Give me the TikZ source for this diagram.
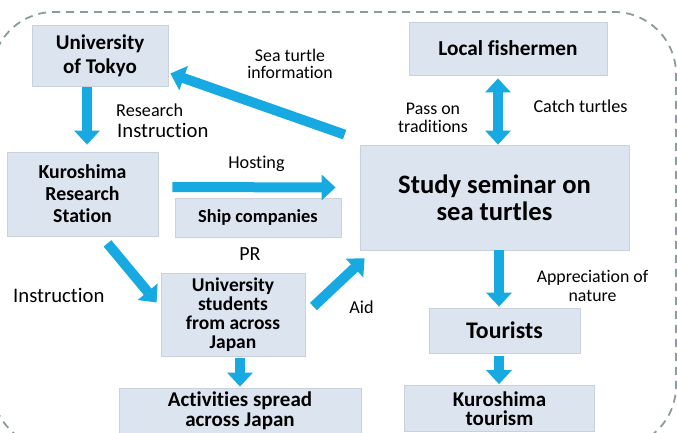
\documentclass[tikz,border=0pt]{standalone}
\usepackage{fontspec}
\setmainfont[Ligatures=NoCommon]{Carlito}
\usetikzlibrary{arrows.meta,calc}
\definecolor{boxfill}{HTML}{DCE4EF}
\definecolor{boxline}{HTML}{C9D1DC}
\definecolor{arrowblue}{HTML}{16A9E2}
\definecolor{dashgray}{HTML}{8E9B9B}
\tikzset{
  box/.style={fill=boxfill,draw=boxline,line width=0.8pt,inner sep=0pt,align=center,font=\bfseries},
  bigarrow/.style={draw=arrowblue,line width=10pt,-{Triangle[width=25pt,length=14pt]}},
  dblarrow/.style={draw=arrowblue,line width=10pt,{Triangle[width=25pt,length=14pt]}-{Triangle[width=25pt,length=14pt]}},
  lbl/.style={inner sep=0pt,align=center}
}
\begin{document}
\begin{tikzpicture}[x=1pt,y=-1pt]
\useasboundingbox (0,0) rectangle (677,433);
% dashed frame
\draw[dashgray,line width=1.8pt,dash pattern=on 8pt off 6pt,rounded corners=62pt] (-8,12) rectangle (676,448);
% boxes
\node[box,minimum width=136pt,minimum height=61pt,font=\fontsize{21}{24}\selectfont\bfseries] (tokyo) at (100,55.5) {University\\of Tokyo};
\node[box,minimum width=198pt,minimum height=53pt,font=\fontsize{21.3}{24}\selectfont\bfseries] (fish) at (508,48.5) {Local fishermen};
\node[box,minimum width=151pt,minimum height=84pt,font=\fontsize{19.8}{22}\selectfont\bfseries] (station) at (82.5,194) {Kuroshima\\Research\\Station};
\node[box,minimum width=166pt,minimum height=39pt,font=\fontsize{18.4}{21}\selectfont\bfseries] (ship) at (258,217.5) {Ship companies};
\node[box,minimum width=269pt,minimum height=105pt,font=\fontsize{26.6}{27}\selectfont\bfseries] (seminar) at (494.5,197.5) {Study seminar on\\sea turtles};
\node[box,minimum width=144pt,minimum height=83pt,font=\fontsize{19.5}{18.8}\selectfont\bfseries] (students) at (233,314.5) {University\\students\\from across\\Japan};
\node[box,minimum width=242pt,minimum height=46pt,font=\fontsize{21}{19.5}\selectfont\bfseries] (activities) at (240,411) {Activities spread\\across Japan};
\node[box,minimum width=151pt,minimum height=45pt,font=\fontsize{23.8}{26}\selectfont\bfseries] (tourists) at (504.5,330.5) {Tourists};
\node[box,minimum width=190pt,minimum height=46pt,font=\fontsize{21}{19.5}\selectfont\bfseries] (ktour) at (499.5,408.5) {Kuroshima\\tourism};
% arrows
\draw[bigarrow] ($(tokyo.south)+(-13,1)$) -- ($(station.north)+(4.5,-7)$);
\draw[bigarrow] ($(seminar.north west)+(-15,-10)$) -- ($(tokyo.east)+(2,18)$);
\draw[bigarrow] ($(station.east)+(14,-7)$) -- ($(seminar.west)+(-24,-10)$);
\draw[dblarrow] ($(fish.south)+(-10,3)$) -- ($(seminar.north)+(3.5,0)$);
\draw[bigarrow] ($(station.south)+(25,7)$) -- ($(students.west)+(-4,-12)$);
\draw[bigarrow] ($(students.east)+(8,-8)$) -- ($(seminar.south west)+(5,8)$);
\draw[bigarrow] ($(students.south)+(7,2)$) -- ($(activities.north)+(0,-1)$);
\draw[bigarrow] ($(seminar.south)+(4.5,0)$) -- ($(tourists.north)+(-5.5,-1)$);
\draw[bigarrow] ($(tourists.south)+(-5.5,3)$) -- ($(ktour.north)+(-0.5,-1)$);
% labels
\node[lbl,font=\fontsize{17.8}{17}\selectfont] (lsea) at (290,64) {Sea turtle\\information};
\node[lbl,font=\fontsize{18.2}{18}\selectfont,anchor=base west] (lres) at (116,117) {Research};
\node[lbl,font=\fontsize{20.7}{20}\selectfont,anchor=base west] (linst1) at (117,138) {Instruction};
\node[lbl,font=\fontsize{18.2}{18}\selectfont,anchor=base] (lhost) at (256.5,168) {Hosting};
\node[lbl,font=\fontsize{20}{20}\selectfont,anchor=base] (lpr) at (250,260) {PR};
\node[lbl,font=\fontsize{20.7}{20}\selectfont,anchor=base west] (linst2) at (13,302) {Instruction};
\node[lbl,font=\fontsize{18.2}{18}\selectfont,anchor=base] (laid) at (361.5,313) {Aid};
\node[lbl,font=\fontsize{17.8}{18.5}\selectfont] (lpass) at (433,118) {Pass on\\traditions};
\node[lbl,font=\fontsize{18.2}{18}\selectfont,anchor=base] (lcatch) at (580.5,113) {Catch turtles};
\node[lbl,font=\fontsize{17.8}{18.5}\selectfont] (lapp) at (592.5,286) {Appreciation of\\nature};
\end{tikzpicture}
\end{document}
